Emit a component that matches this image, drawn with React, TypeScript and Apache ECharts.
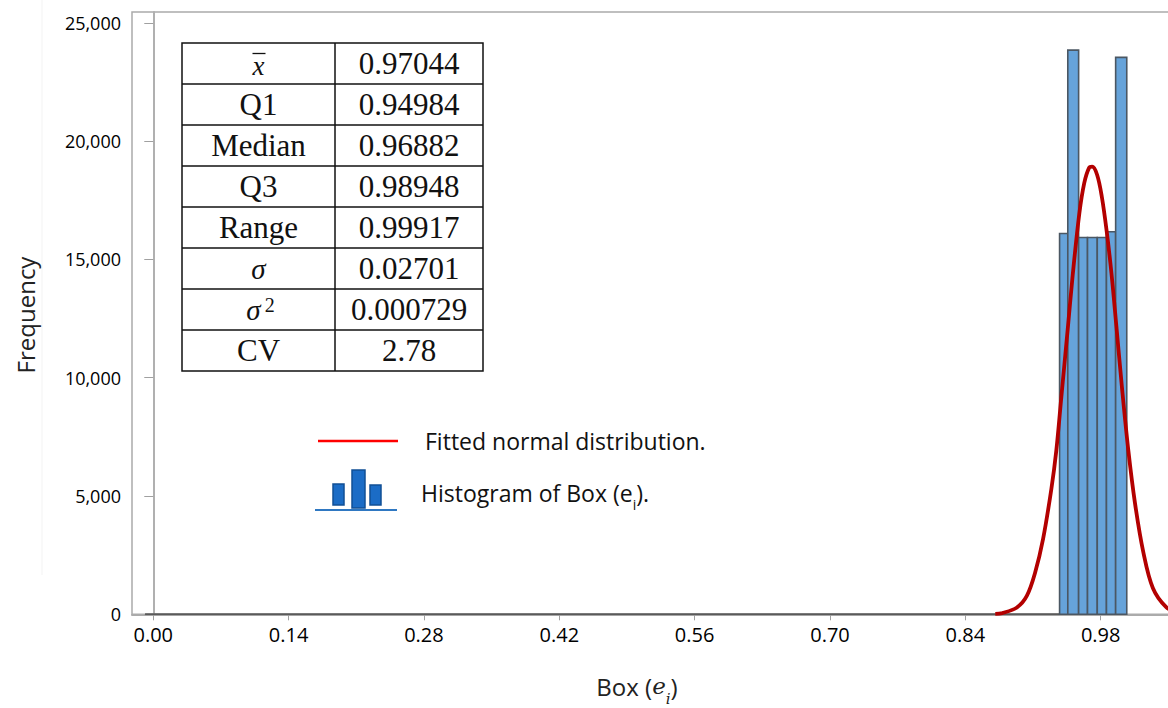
import React, { useEffect, useRef } from "react";
import * as echarts from "echarts";

// ---- data ----
const xTickValues = [0, 0.14, 0.28, 0.42, 0.56, 0.7, 0.84, 0.98];
const yTickValues = [0, 5000, 10000, 15000, 20000, 25000];

// histogram bin edges and counts
const binEdges = [0.9375, 0.946, 0.9572, 0.9664, 0.9765, 0.986, 0.9955, 1.007];
const binCounts = [16100, 23850, 15930, 15930, 15930, 16170, 23540];

// empty bins baseline (zero-height outlined bins)
const emptyBinsFrom = [-0.0085, 0];
const emptyBinsTo = [0.9375, 0];

// fitted normal curve
const curveX = [
  0.871, 0.8781, 0.8934, 0.9036, 0.9121, 0.9205, 0.929, 0.9341, 0.9393, 0.946,
  0.9511, 0.9579, 0.963, 0.968, 0.9712, 0.9763, 0.9812, 0.9862, 0.9912, 0.9962,
  1.002, 1.0087, 1.0155, 1.024, 1.0341, 1.0478, 1.06,
];
const curveY = [
  15, 50, 290, 775, 1745, 3200, 5300, 6915, 9177, 12085,
  14346, 16930, 18224, 18870, 18920, 18580, 17650, 16200, 14400, 12200,
  9600, 6900, 4700, 2650, 1100, 300, 60,
];

// statistics table
const statLabels = ["x", "Q1", "Median", "Q3", "Range", "σ", "σ2", "CV"];
const statValues = ["0.97044", "0.94984", "0.96882", "0.98948", "0.99917", "0.02701", "0.000729", "2.78"];

const legendCurveText = "Fitted normal distribution.";

const W = 1200;
const H = 708;

function buildTable(): any[] {
  const left = 182;
  const mid = 335;
  const right = 483;
  const top = 43;
  const rowH = 41;
  const els: any[] = [];
  const n = statLabels.length;
  els.push({
    type: "rect",
    shape: { x: left, y: top, width: right - left, height: rowH * n },
    style: { fill: "#fff", stroke: "#111", lineWidth: 1.5 },
  });
  for (let i = 1; i < n; i++) {
    els.push({
      type: "line",
      shape: { x1: left, y1: top + rowH * i, x2: right, y2: top + rowH * i },
      style: { stroke: "#111", lineWidth: 1.5 },
    });
  }
  els.push({
    type: "line",
    shape: { x1: mid, y1: top, x2: mid, y2: top + rowH * n },
    style: { stroke: "#111", lineWidth: 1.5 },
  });
  const serif = "'Liberation Serif', 'DejaVu Serif', serif";
  statLabels.forEach((lab, i) => {
    const cy = top + rowH * i + rowH / 2;
    const cx = (left + mid) / 2;
    if (i === 0) {
      els.push({
        type: "text",
        x: cx,
        y: cy + 2,
        style: { text: "x", fontSize: 27, fontStyle: "italic", fontFamily: serif, fill: "#111", align: "center", verticalAlign: "middle" },
      });
      els.push({
        type: "line",
        shape: { x1: cx - 6, y1: cy - 10, x2: cx + 7, y2: cy - 10 },
        style: { stroke: "#111", lineWidth: 1.3 },
      });
    } else if (i === 5) {
      els.push({
        type: "text",
        x: cx,
        y: cy,
        style: { text: "σ", fontSize: 29, fontStyle: "italic", fontFamily: serif, fill: "#111", align: "center", verticalAlign: "middle" },
      });
    } else if (i === 6) {
      els.push({
        type: "text",
        x: cx + 2,
        y: cy,
        style: {
          text: "{s|σ}{p|2}",
          align: "center",
          verticalAlign: "middle",
          rich: {
            s: { fontSize: 29, fontStyle: "italic", fontFamily: serif, fill: "#111", lineHeight: 30, verticalAlign: "bottom" },
            p: { fontSize: 20, fontFamily: serif, fill: "#111", lineHeight: 18, verticalAlign: "top", padding: [0, 0, 0, 4] },
          },
        },
      });
    } else {
      els.push({
        type: "text",
        x: cx,
        y: cy,
        style: { text: lab, fontSize: 31, fontFamily: serif, fill: "#111", align: "center", verticalAlign: "middle" },
      });
    }
    els.push({
      type: "text",
      x: (mid + right) / 2,
      y: cy,
      style: { text: statValues[i], fontSize: 31, fontFamily: serif, fill: "#111", align: "center", verticalAlign: "middle" },
    });
  });
  return els;
}

function buildLegend(): any[] {
  const sans = "'Open Sans', 'Noto Sans', sans-serif";
  return [
    {
      type: "line",
      shape: { x1: 318, y1: 441, x2: 398, y2: 441 },
      style: { stroke: "#ff0000", lineWidth: 2.5 },
    },
    {
      type: "text",
      x: 425,
      y: 441,
      style: { text: legendCurveText, fontSize: 23, fontFamily: sans, fill: "#111", verticalAlign: "middle" },
    },
    { type: "rect", shape: { x: 333, y: 484, width: 11, height: 21 }, style: { fill: "#1b6cc6", stroke: "#114f95", lineWidth: 1.5 } },
    { type: "rect", shape: { x: 352, y: 470, width: 13, height: 38 }, style: { fill: "#1b6cc6", stroke: "#114f95", lineWidth: 1.5 } },
    { type: "rect", shape: { x: 370, y: 485, width: 11, height: 20 }, style: { fill: "#1b6cc6", stroke: "#114f95", lineWidth: 1.5 } },
    {
      type: "line",
      shape: { x1: 315, y1: 510, x2: 397, y2: 510 },
      style: { stroke: "#2f78c2", lineWidth: 2 },
    },
    {
      type: "text",
      x: 421,
      y: 496,
      style: {
        text: "{a|Histogram of Box (e}{b|i}{a|).}",
        verticalAlign: "middle",
        rich: {
          a: { fontSize: 23, fontFamily: sans, fill: "#111", lineHeight: 30, verticalAlign: "top" },
          b: { fontSize: 14, fontFamily: sans, fill: "#111", lineHeight: 20, verticalAlign: "bottom" },
        },
      },
    },
  ];
}

function buildTitles(): any[] {
  const sans = "'Open Sans', 'Noto Sans', sans-serif";
  const serif = "'DejaVu Serif', 'Liberation Serif', serif";
  return [
    {
      type: "line",
      shape: { x1: 42, y1: 0, x2: 42, y2: 575 },
      style: { stroke: "#f3f3f3", lineWidth: 1 },
    },
    {
      type: "text",
      x: 25,
      y: 315,
      rotation: Math.PI / 2,
      style: { text: "Frequency", fontSize: 24, fontFamily: sans, fill: "#222", align: "center", verticalAlign: "middle" },
    },
    {
      type: "text",
      x: 637,
      y: 690,
      style: {
        text: "{a|Box (}{e|e}{i|i}{a|)}",
        align: "center",
        verticalAlign: "middle",
        rich: {
          a: { fontSize: 24, fontFamily: sans, fill: "#222", lineHeight: 32, verticalAlign: "top" },
          e: { fontSize: 23, fontFamily: serif, fontStyle: "italic", fill: "#222", lineHeight: 32, verticalAlign: "top" },
          i: { fontSize: 15, fontFamily: serif, fontStyle: "italic", fill: "#222", lineHeight: 19, verticalAlign: "bottom" },
        },
      },
    },
  ];
}

export default function App() {
  const ref = useRef<HTMLDivElement>(null);

  useEffect(() => {
    if (!ref.current) return;
    const chart = echarts.init(ref.current, null, { renderer: "svg" });
    const sans = "'Open Sans', 'Noto Sans', sans-serif";
    const histData = binCounts.map((c, i) => [binEdges[i], binEdges[i + 1], c]);
    const curveData = curveX.map((x, i) => [x, curveY[i]]);

    const option: any = {
      animation: false,
      backgroundColor: "#ffffff",
      grid: {
        left: 132,
        top: 12,
        right: W - 1178,
        bottom: H - 614.3,
        show: true,
        borderColor: "#ababab",
        borderWidth: 1.5,
        backgroundColor: "transparent",
      },
      xAxis: {
        type: "value",
        min: -0.022,
        max: 1.06,
        axisLine: { show: true, onZero: false, lineStyle: { color: "#ababab", width: 2 } },
        axisTick: { show: true, length: 6, customValues: xTickValues, lineStyle: { color: "#a0a0a0", width: 1 } },
        axisLabel: {
          customValues: xTickValues,
          formatter: (v: number) => v.toFixed(2),
          color: "#000",
          fontSize: 20,
          fontFamily: sans,
          margin: 10,
        },
        splitLine: { show: false },
      },
      yAxis: {
        type: "value",
        min: 0,
        max: 25460,
        axisLine: { show: true, lineStyle: { color: "#b0b0b0", width: 2 } },
        axisTick: { show: true, length: 9, customValues: yTickValues, lineStyle: { color: "#a0a0a0", width: 1 } },
        axisLabel: {
          customValues: yTickValues,
          formatter: (v: number) => v.toLocaleString("en-US"),
          color: "#000",
          fontSize: 18,
          fontFamily: sans,
          margin: 11,
        },
        splitLine: { show: false },
      },
      series: [
        {
          type: "line",
          data: [emptyBinsFrom, emptyBinsTo],
          symbol: "none",
          lineStyle: { color: "#5a5a5a", width: 2 },
          z: 2,
        },
        {
          type: "custom",
          data: histData,
          encode: { x: [0, 1], y: 2 },
          z: 3,
          renderItem: (params: any, api: any) => {
            const p0 = api.coord([api.value(0), api.value(2)]);
            const p1 = api.coord([api.value(1), 0]);
            return {
              type: "rect",
              shape: { x: p0[0], y: p0[1], width: p1[0] - p0[0], height: p1[1] - p0[1] },
              style: { fill: "#66a3da", stroke: "#4b5763", lineWidth: 1.6 },
            };
          },
        },
        {
          type: "line",
          data: curveData,
          symbol: "none",
          smooth: 0.35,
          lineStyle: { color: "#b30000", width: 3.8 },
          z: 4,
        },
      ],
      graphic: [...buildTable(), ...buildLegend(), ...buildTitles()],
    };
    chart.setOption(option);
    return () => chart.dispose();
  }, []);

  return (
    <div style={{ position: "fixed", left: 0, top: 0, width: 1168, height: 708, overflow: "hidden", background: "#fff" }}>
      <div ref={ref} style={{ width: W, height: H }} />
    </div>
  );
}
